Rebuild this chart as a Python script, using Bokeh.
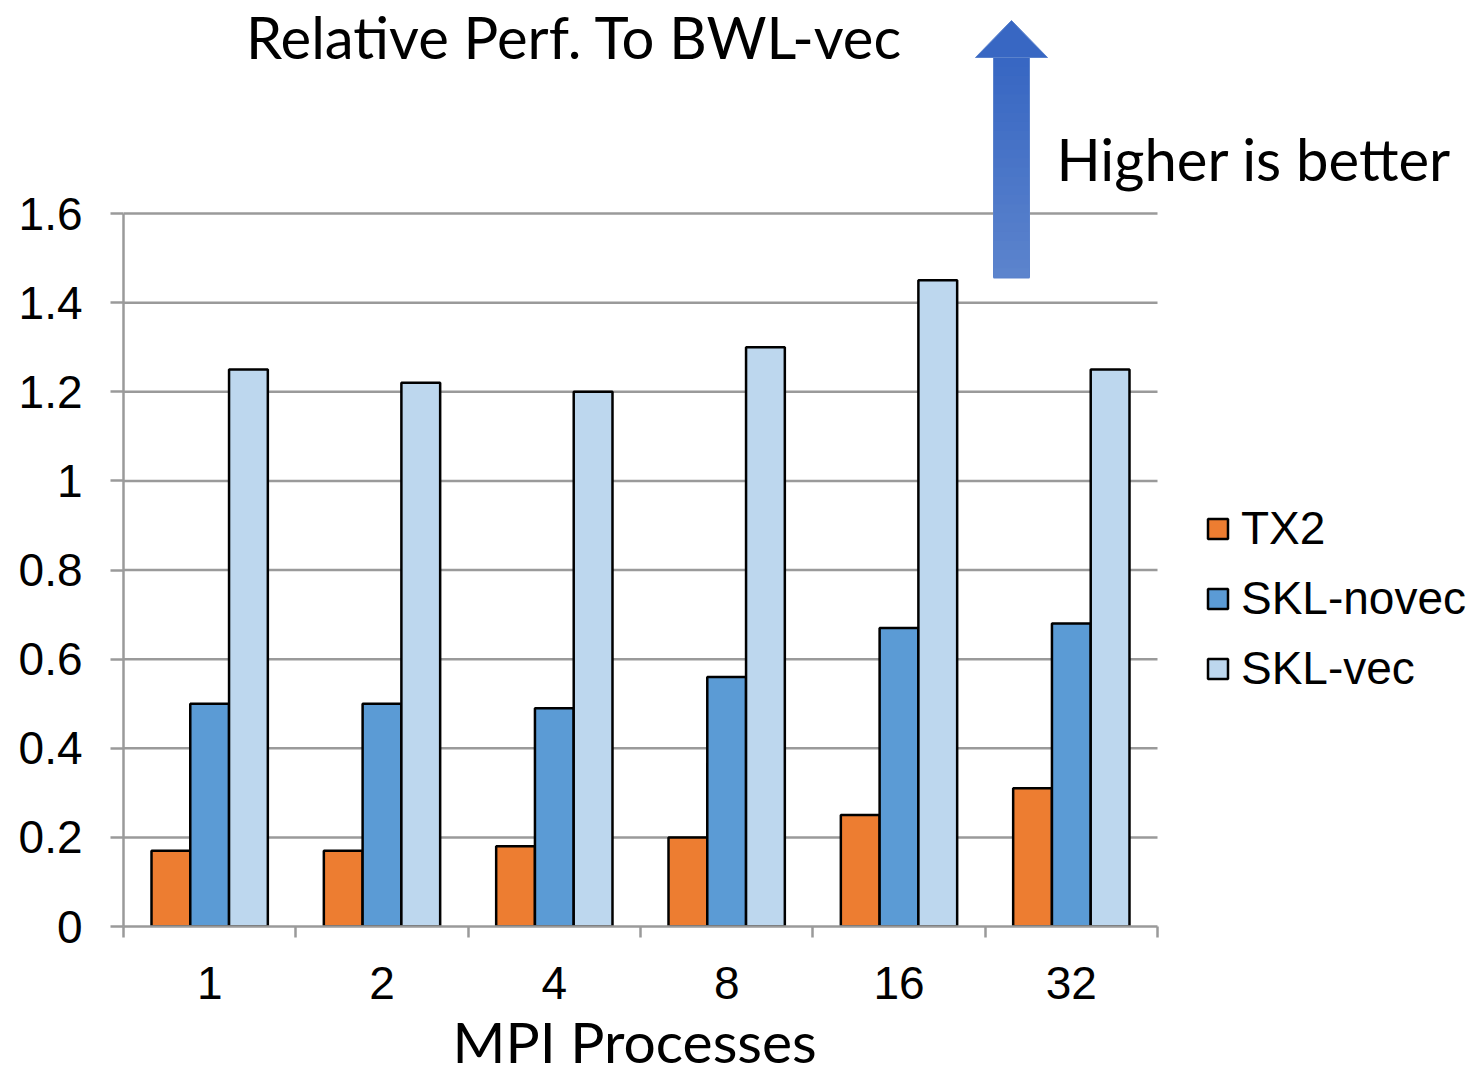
from bokeh.plotting import figure
from bokeh.models import (FixedTicker, CustomJSTickFormatter, Label, Legend, LegendItem,
                          Range1d, ColumnDataSource)
from bokeh.embed import file_html
from bokeh.resources import INLINE

# ---- data ----
MPI = ["1", "2", "4", "8", "16", "32"]
SERIES = ["TX2", "SKL-novec", "SKL-vec"]
TX2 = [0.17, 0.17, 0.18, 0.20, 0.25, 0.31]
SKL_NOVEC = [0.50, 0.50, 0.49, 0.56, 0.67, 0.68]
SKL_VEC = [1.25, 1.22, 1.20, 1.30, 1.45, 1.25]
Y_TICKS = [0, 0.2, 0.4, 0.6, 0.8, 1.0, 1.2, 1.4, 1.6]
TITLE = "Relative Perf. To BWL-vec"
NOTE = "Higher is better"
XLABEL = "MPI Processes"

# ---- style ----
COLORS = ["#ED7D31", "#5B9BD5", "#BDD7EE"]
GRID = "#9a9a9a"
TICK_FONT = "Liberation Sans"
TEXT_FONT = "Lato"

W, H = 1481, 1065
LEFT, BOTTOM = 123, 139
PLOT_W = 1034                 # width of the axis part
FRAME_W = W - LEFT
FRAME_H = H - BOTTOM
YMAX_AXIS = 1.6
PX_PER_UNIT = 713 / YMAX_AXIS
Y_END = FRAME_H / PX_PER_UNIT
NG = len(MPI)
PX_PER_X = PLOT_W / NG
X_END = FRAME_W / PX_PER_X

p = figure(width=W, height=H, output_backend="svg", toolbar_location=None,
           x_range=Range1d(0, X_END), y_range=Range1d(0, Y_END),
           min_border_left=LEFT, min_border_right=0, min_border_top=0,
           min_border_bottom=BOTTOM)
p.frame_width = FRAME_W
p.frame_height = FRAME_H
p.outline_line_color = None
p.background_fill_color = "white"
p.border_fill_color = "white"
p.xgrid.visible = False
p.ygrid.visible = False

# horizontal gridlines limited to the axis part
p.segment(x0=[0] * (len(Y_TICKS) - 1), x1=[NG] * (len(Y_TICKS) - 1), y0=Y_TICKS[1:], y1=Y_TICKS[1:],
          line_color=GRID, line_width=2.5)

# y axis
ya = p.yaxis[0]
ya.ticker = FixedTicker(ticks=Y_TICKS)
ya.bounds = (0, YMAX_AXIS)
ya.formatter = CustomJSTickFormatter(code="return tick.toFixed(1).replace(/\\.0$/, '');")
ya.axis_line_color = GRID
ya.axis_line_width = 2.5
ya.major_tick_line_color = GRID
ya.major_tick_line_width = 2.5
ya.major_tick_out = 13
ya.major_tick_in = 0
ya.minor_tick_line_color = None
ya.major_label_text_font = TICK_FONT
ya.major_label_text_font_size = "46px"
ya.major_label_text_color = "black"
ya.major_label_standoff = 28

# x axis
xa = p.xaxis[0]
xa.ticker = FixedTicker(ticks=[i + 0.5 for i in range(NG)], minor_ticks=list(range(NG + 1)))
xa.formatter = CustomJSTickFormatter(args=dict(labels=MPI),
                                     code="return labels[Math.floor(tick)] || '';")
xa.bounds = (0, NG)
xa.axis_line_color = GRID
xa.axis_line_width = 2.5
xa.major_tick_line_color = None
xa.major_tick_out = 0
xa.major_tick_in = 0
xa.minor_tick_line_color = GRID
xa.minor_tick_line_width = 2.5
xa.minor_tick_out = 11
xa.minor_tick_in = 0
xa.major_label_text_font = TICK_FONT
xa.major_label_text_font_size = "46px"
xa.major_label_text_color = "black"
xa.major_label_standoff = 29
# the axis label is centred on the whole frame (which also holds the legend);
# trailing no-break spaces shift the visible words to the centre of the bars
xa.axis_label = XLABEL + "\u00a0" * 23
xa.axis_label_text_font = TEXT_FONT
xa.axis_label_text_font_size = "57px"
xa.axis_label_text_font_style = "normal"
xa.axis_label_text_color = "black"
xa.axis_label_standoff = 5

# bars
BW = 0.225
offsets = [-BW, 0.0, BW]
renderers = []
for vals, off, col in zip([TX2, SKL_NOVEC, SKL_VEC], offsets, COLORS):
    src = ColumnDataSource(dict(x=[i + 0.5 + off for i in range(NG)], top=vals))
    r = p.vbar(x="x", top="top", width=BW, bottom=0, source=src, fill_color=col,
               line_color="black", line_width=2.5)
    renderers.append(r)

legend = Legend(items=[LegendItem(label=s, renderers=[r]) for s, r in zip(SERIES, renderers)],
                location=(1082, 231), orientation="vertical",
                glyph_width=25, glyph_height=25, label_standoff=11, spacing=16,
                padding=0, margin=0, border_line_color=None, background_fill_alpha=0,
                label_text_font=TICK_FONT, label_text_font_size="46px",
                label_text_color="black")
p.add_layout(legend, "center")

# arrow (decoration)
def px_x(px):
    return (px - LEFT) / PX_PER_X

def px_y(py):
    return (FRAME_H - py) / PX_PER_UNIT

SHAFT_L, SHAFT_R, HEAD_L, HEAD_R, TIP = px_x(993), px_x(1029), px_x(975), px_x(1047), px_x(1011)
Y_BOT, Y_HEAD, Y_TIP = px_y(277), px_y(57), px_y(20)
top_rgb = (0x38, 0x67, 0xC3)
bot_rgb = (0x5C, 0x84, 0xCD)
NB = 24
for k in range(NB):
    t = k / (NB - 1)
    c = "#%02x%02x%02x" % tuple(int(a + (b - a) * t) for a, b in zip(top_rgb, bot_rgb))
    y1 = Y_HEAD - (Y_HEAD - Y_BOT) * k / NB
    y0 = Y_HEAD - (Y_HEAD - Y_BOT) * (k + 1) / NB
    p.quad(left=SHAFT_L, right=SHAFT_R, bottom=y0 - 0.002, top=y1, fill_color=c, line_color=None)
p.patch([HEAD_L, TIP, HEAD_R], [Y_HEAD, Y_TIP, Y_HEAD], fill_color="#3867C3", line_color="#5a82cc",
        line_width=1)
p.patch([SHAFT_L, SHAFT_R, SHAFT_R, SHAFT_L], [Y_BOT, Y_BOT, Y_HEAD, Y_HEAD], fill_color=None,
        line_color="#5a82cc", line_width=1)

# texts
p.add_layout(Label(x=px_x(574), y=px_y(36), text=TITLE, text_align="center", text_baseline="middle",
                   text_font=TEXT_FONT, text_font_size="58px", text_color="black"))
p.add_layout(Label(x=px_x(1056), y=px_y(158), text=NOTE, text_align="left", text_baseline="middle",
                   text_font=TEXT_FONT, text_font_size="58px", text_color="black"))

open("out.html", "w").write(file_html(p, INLINE))
